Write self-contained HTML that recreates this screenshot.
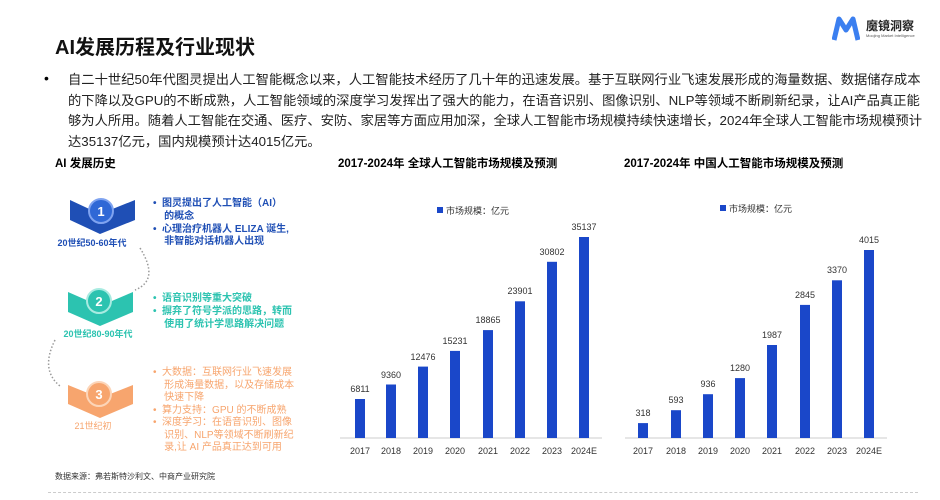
<!DOCTYPE html><html><head><meta charset="utf-8"><style>
body{margin:0;width:940px;height:500px;background:#fff;overflow:hidden;font-family:"Liberation Sans","Noto Sans CJK SC",sans-serif;position:relative}
.a{position:absolute;white-space:nowrap}
</style></head><body>
<div class="a" style="left:55px;top:31px;font-size:20px;font-weight:bold;color:#111">AI发展历程及行业现状</div>
<svg class="a" style="left:832px;top:16px" width="28" height="26"><path d="M2 24 L7 3 L14 14 L21 3 L26 24" fill="none" stroke="#3b7ff0" stroke-width="5" stroke-linejoin="round"/></svg>
<div class="a" style="left:866px;top:17px;font-size:12px;font-weight:bold;color:#222">魔镜洞察</div>
<div class="a" style="left:866px;top:33px;font-size:4px;color:#555">Moojing Market Intelligence</div>
<div class="a" style="left:44px;top:70px;font-size:14px">•</div>
<div class="a" style="left:68px;top:70px;font-size:13.3px;line-height:20.5px;color:#222">自二十世纪50年代图灵提出人工智能概念以来，人工智能技术经历了几十年的迅速发展。基于互联网行业飞速发展形成的海量数据、数据储存成本<br>的下降以及GPU的不断成熟，人工智能领域的深度学习发挥出了强大的能力，在语音识别、图像识别、NLP等领域不断刷新纪录，让AI产品真正能<br>够为人所用。随着人工智能在交通、医疗、安防、家居等方面应用加深，全球人工智能市场规模持续快速增长，2024年全球人工智能市场规模预计<br>达35137亿元，国内规模预计达4015亿元。</div>
<div class="a" style="left:55px;top:155px;font-size:11.5px;font-weight:bold">AI 发展历史</div>
<svg class="a" style="left:0;top:0" width="330" height="500">
<path d="M70 200 L100 214 L135 200 L135 220 L100 234 L70 220Z" fill="#1f4fb5"/>
<circle cx="101" cy="211" r="12" fill="#2f68d6" stroke="#7fa3f0" stroke-width="2"/>
<text x="101" y="216" font-size="13" fill="#fff" text-anchor="middle" font-weight="bold">1</text>
<path d="M68 292 L100 306 L133 292 L133 312 L100 326 L68 312Z" fill="#2cc3b0"/>
<circle cx="99" cy="301" r="12" fill="#2cc3b0" stroke="#a8ebe1" stroke-width="2"/>
<text x="99" y="306" font-size="13" fill="#fff" text-anchor="middle" font-weight="bold">2</text>
<path d="M68 385 L100 398 L133 385 L133 404 L100 418 L68 404Z" fill="#f7a56e"/>
<circle cx="99" cy="394" r="12" fill="#f7a56e" stroke="#fcd5b8" stroke-width="2"/>
<text x="99" y="399" font-size="13" fill="#fff" text-anchor="middle" font-weight="bold">3</text>
<path d="M140 248 Q160 280 135 290" fill="none" stroke="#999" stroke-width="1.5" stroke-dasharray="1.5 2"/>
<path d="M55 340 Q40 370 60 386" fill="none" stroke="#999" stroke-width="1.5" stroke-dasharray="1.5 2"/>
<text x="92" y="246" font-size="9" fill="#1f4fb5" text-anchor="middle" font-family="Liberation Sans,Noto Sans CJK SC" font-weight="bold">20世纪50-60年代</text>
<text x="98" y="337" font-size="9" fill="#2cc3b0" text-anchor="middle" font-family="Liberation Sans,Noto Sans CJK SC" font-weight="bold">20世纪80-90年代</text>
<text x="93" y="429" font-size="9" fill="#f7a56e" text-anchor="middle" font-family="Liberation Sans,Noto Sans CJK SC">21世纪初</text>
</svg>
<div class="a" style="left:153px;top:198px;font-size:10px;line-height:12.8px;color:#1f4fb5;font-weight:bold">•&nbsp; 图灵提出了人工智能（AI）<br>&nbsp;&nbsp;&nbsp; 的概念<br>•&nbsp; 心理治疗机器人 ELIZA 诞生,<br>&nbsp;&nbsp;&nbsp; 非智能对话机器人出现</div>
<div class="a" style="left:153px;top:293px;font-size:10px;line-height:12.8px;color:#2cc3b0;font-weight:bold">•&nbsp; 语音识别等重大突破<br>•&nbsp; 摒弃了符号学派的思路，转而<br>&nbsp;&nbsp;&nbsp; 使用了统计学思路解决问题</div>
<div class="a" style="left:153px;top:367px;font-size:10px;line-height:12.5px;color:#f7a56e">•&nbsp; 大数据：互联网行业飞速发展<br>&nbsp;&nbsp;&nbsp; 形成海量数据，以及存储成本<br>&nbsp;&nbsp;&nbsp; 快速下降<br>•&nbsp; 算力支持：GPU 的不断成熟<br>•&nbsp; 深度学习：在语音识别、图像<br>&nbsp;&nbsp;&nbsp; 识别、NLP等领域不断刷新纪<br>&nbsp;&nbsp;&nbsp; 录,让 AI 产品真正达到可用</div>
<div class="a" style="left:55px;top:471px;font-size:8px;color:#333">数据来源：弗若斯特沙利文、中商产业研究院</div>
<div class="a" style="left:48px;top:492px;width:870px;border-top:1px dashed #ccc"></div>
<div class="a" style="left:338px;top:155px;font-size:11.5px;font-weight:bold">2017-2024年 全球人工智能市场规模及预测</div>
<div class="a" style="left:624px;top:155px;font-size:11.5px;font-weight:bold">2017-2024年 中国人工智能市场规模及预测</div>
<svg class="a" style="left:0;top:0" width="940" height="500" font-family="Liberation Sans,Noto Sans CJK SC" font-size="9" fill="#333">
<rect x="437" y="207" width="6" height="6" fill="#1a47c9"/><text x="446" y="214">市场规模：亿元</text>
<rect x="720" y="205" width="6" height="6" fill="#1a47c9"/><text x="729" y="212">市场规模：亿元</text>
<line x1="340" y1="438" x2="602" y2="438" stroke="#ccc"/>
<line x1="625" y1="438" x2="887" y2="438" stroke="#ccc"/>
<g fill="#1a47c9">
<rect x="355" y="399" width="10" height="39"/><rect x="386" y="384.5" width="10" height="53.5"/><rect x="418" y="366.6" width="10" height="71.4"/><rect x="450" y="350.9" width="10" height="87.1"/><rect x="483" y="330.1" width="10" height="107.9"/><rect x="515" y="301.3" width="10" height="136.7"/><rect x="547" y="261.8" width="10" height="176.2"/><rect x="579" y="237" width="10" height="201"/>
<rect x="638" y="423.1" width="10" height="14.9"/><rect x="671" y="410.2" width="10" height="27.8"/><rect x="703" y="394.2" width="10" height="43.8"/><rect x="735" y="378.1" width="10" height="59.9"/><rect x="767" y="345" width="10" height="93"/><rect x="800" y="304.9" width="10" height="133.1"/><rect x="832" y="280.3" width="10" height="157.7"/><rect x="864" y="250" width="10" height="188"/>
</g>
<g text-anchor="middle">
<text x="360" y="392">6811</text><text x="391" y="378">9360</text><text x="423" y="360">12476</text><text x="455" y="344">15231</text><text x="488" y="323">18865</text><text x="520" y="294">23901</text><text x="552" y="255">30802</text><text x="584" y="230">35137</text>
<text x="643" y="416">318</text><text x="676" y="403">593</text><text x="708" y="387">936</text><text x="740" y="371">1280</text><text x="772" y="338">1987</text><text x="805" y="298">2845</text><text x="837" y="273">3370</text><text x="869" y="243">4015</text>
<text x="360" y="454">2017</text><text x="391" y="454">2018</text><text x="423" y="454">2019</text><text x="455" y="454">2020</text><text x="488" y="454">2021</text><text x="520" y="454">2022</text><text x="552" y="454">2023</text><text x="584" y="454">2024E</text>
<text x="643" y="454">2017</text><text x="676" y="454">2018</text><text x="708" y="454">2019</text><text x="740" y="454">2020</text><text x="772" y="454">2021</text><text x="805" y="454">2022</text><text x="837" y="454">2023</text><text x="869" y="454">2024E</text>
</g></svg>
</body></html>
